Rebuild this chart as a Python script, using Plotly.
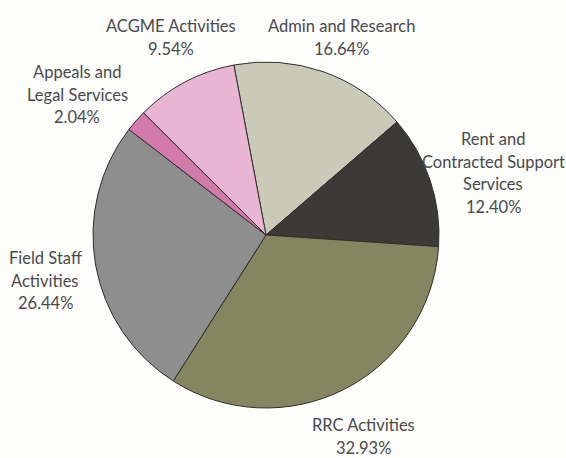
import plotly.graph_objects as go

labels = ["Admin and Research", "Rent and Contracted Support Services", "RRC Activities",
          "Field Staff Activities", "Appeals and Legal Services", "ACGME Activities"]
values = [16.64, 12.40, 32.93, 26.44, 2.04, 9.54]
colors = ["#c9cab7", "#3b3a37", "#85865f", "#8e8e8e", "#d27aa9", "#e8b6d3"]

# label text lines (category name split as printed) + percentage
label_lines = [
    ["Admin and Research"],
    ["Rent and", "Contracted Support", "Services"],
    ["RRC Activities"],
    ["Field Staff", "Activities"],
    ["Appeals and", "Legal Services"],
    ["ACGME Activities"],
]

W, H = 566, 458
# label anchor (center x, first-line center y) in pixels
label_pos = [(341, 26), (493, 139), (363, 425), (45, 258), (77, 72), (171, 26)]
LINE_PITCH = 22.5

fig = go.Figure()
cx, cy, r = 266, 235, 173
fig.add_trace(go.Pie(
    labels=labels, values=values, sort=False, direction="clockwise",
    rotation=-10.7, textinfo="none", hoverinfo="label+percent",
    marker=dict(colors=colors, line=dict(color="#2e2e2e", width=1)),
    domain=dict(x=[(cx - r) / W, (cx + r) / W], y=[(H - cy - r) / H, (H - cy + r) / H]),
    showlegend=False,
))

font = dict(family="Lato, sans-serif", size=16.5, color="#4a4a4a")
for lines, v, (px, py) in zip(label_lines, values, label_pos):
    all_lines = lines + [f"{v:.2f}%"]
    for i, t in enumerate(all_lines):
        fig.add_annotation(x=px / W, y=1 - (py + i * LINE_PITCH) / H, xref="paper", yref="paper",
                           text=t, showarrow=False, xanchor="center", yanchor="middle", font=font)

fig.update_layout(width=W, height=H, autosize=False, margin=dict(l=0, r=0, t=0, b=0),
                  paper_bgcolor="#fdfdfb", plot_bgcolor="#fdfdfb")
fig.write_html("out.html")
